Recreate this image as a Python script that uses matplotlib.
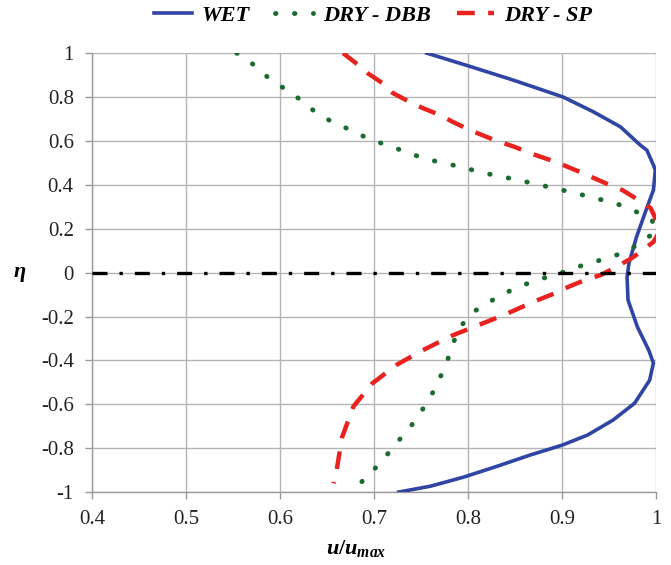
import matplotlib
matplotlib.use("Agg")
import matplotlib.pyplot as plt
from matplotlib.ticker import FuncFormatter

plt.rcParams['font.family'] = ['Liberation Serif', 'DejaVu Serif']
plt.rcParams['axes.unicode_minus'] = False
plt.rcParams['mathtext.fontset'] = 'custom'
plt.rcParams['mathtext.it'] = 'Liberation Serif:italic:bold'
plt.rcParams['mathtext.rm'] = 'Liberation Serif:bold'

# WET profile (u/umax vs eta)
wet_eta = [1.0, 0.942, 0.877, 0.80, 0.733, 0.664, 0.581, 0.558, 0.49, 0.467, 0.376,
           0.271, 0.162, 0.043, -0.02, -0.125, -0.248, -0.353, -0.412, -0.49, -0.595,
           -0.672, -0.74, -0.786, -0.831, -0.882, -0.932, -0.973, -1.0]
wet_u = [0.756, 0.800, 0.848, 0.901, 0.933, 0.962, 0.983, 0.990, 0.997, 0.999, 0.997,
         0.988, 0.979, 0.971, 0.969, 0.970, 0.980, 0.992, 0.997, 0.993, 0.977,
         0.954, 0.927, 0.900, 0.866, 0.831, 0.795, 0.760, 0.726]

# DRY - DBB profile
dbb_eta = [1.0, 0.95, 0.89, 0.84, 0.79, 0.73, 0.685, 0.65, 0.61, 0.58, 0.55, 0.52, 0.50,
           0.48, 0.455, 0.44, 0.42, 0.40, 0.38, 0.36, 0.339, 0.317, 0.285, 0.244, 0.19,
           0.13, 0.089, 0.061, 0.034, 0.007, -0.02, -0.048, -0.084, -0.125, -0.175,
           -0.235, -0.32, -0.40, -0.49, -0.567, -0.64, -0.713, -0.78, -0.85, -0.915, -0.977]
dbb_u = [0.554, 0.571, 0.587, 0.604, 0.621, 0.638, 0.656, 0.675, 0.694, 0.714, 0.734, 0.753, 0.773,
         0.794, 0.815, 0.833, 0.855, 0.876, 0.896, 0.916, 0.935, 0.956, 0.975, 0.995, 1.0,
         0.982, 0.964, 0.944, 0.922, 0.905, 0.884, 0.864, 0.844, 0.826, 0.807,
         0.794, 0.784, 0.778, 0.769, 0.760, 0.749, 0.737, 0.723, 0.710, 0.696, 0.681]

# DRY - SP profile
sp_eta = [1.0, 0.95, 0.909, 0.863, 0.818, 0.777, 0.749, 0.718, 0.686, 0.649, 0.604, 0.572,
          0.544, 0.503, 0.453, 0.40, 0.376, 0.339, 0.294, 0.24, 0.19, 0.14, 0.103, 0.066,
          0.02, -0.011, -0.034, -0.066, -0.093, -0.125, -0.153, -0.18, -0.21, -0.285,
          -0.353, -0.42, -0.505, -0.61, -0.75, -0.93, -0.96]
sp_u = [0.667, 0.682, 0.693, 0.709, 0.720, 0.738, 0.752, 0.770, 0.784, 0.802, 0.828, 0.850,
        0.866, 0.894, 0.922, 0.950, 0.964, 0.978, 0.994, 1.0, 1.004, 0.997, 0.986, 0.974,
        0.955, 0.941, 0.924, 0.906, 0.893, 0.874, 0.859, 0.845, 0.828, 0.784,
        0.752, 0.724, 0.698, 0.678, 0.666, 0.659, 0.657]

ref_eta = 0.0

x_ticks = [0.4, 0.5, 0.6, 0.7, 0.8, 0.9, 1.0]
y_ticks = [-1, -0.8, -0.6, -0.4, -0.2, 0, 0.2, 0.4, 0.6, 0.8, 1]

fig = plt.figure(figsize=(6.71, 5.65), dpi=100)
ax = fig.add_axes([0.137, 0.129, 0.841, 0.777])

ax.plot(wet_u, wet_eta, color='#3044a4', lw=2.6, solid_joinstyle='round', label='WET', zorder=3)
ax.plot(dbb_u, dbb_eta, color='#1b6b2f', lw=3.5, linestyle=(0, (0.1, 3.8)),
        dash_capstyle='round', label='DRY - DBB', zorder=3)
ax.plot(sp_u, sp_eta, color='#e8231f', lw=3.2, linestyle=(0, (4, 3)),
        dash_capstyle='butt', label='DRY - SP', zorder=3)
ax.axhline(ref_eta, color='black', lw=2.4, linestyle=(0, (4.5, 3.6, 1, 3.6)), zorder=4)

ax.set_xlim(0.4, 1.0)
ax.set_ylim(-1, 1)
ax.set_xticks(x_ticks)
ax.set_yticks(y_ticks)
fmt = FuncFormatter(lambda v, p: '%g' % round(v, 2))
ax.xaxis.set_major_formatter(fmt)
ax.yaxis.set_major_formatter(fmt)
ax.grid(True, color='#b4b4b4', lw=1.0, zorder=0)
ax.set_axisbelow(True)
for s in ['top', 'right']:
    ax.spines[s].set_visible(False)
for s in ['left', 'bottom']:
    ax.spines[s].set_color('#9a9a9a')
    ax.spines[s].set_linewidth(1.0)
ax.tick_params(direction='out', length=5, width=1.0, color='#9a9a9a',
               labelsize=15, labelcolor='#222222', pad=8)

fig.text(0.03, 0.518, 'η', fontsize=16, fontweight='bold', fontstyle='italic',
         ha='center', va='center')
fig.text(0.53, 0.02, r'$u/u_{max}$', fontsize=16, ha='center', va='baseline')

handles, labels = ax.get_legend_handles_labels()
fig.legend(handles, labels, loc='center', bbox_to_anchor=(0.556, 0.973), ncol=3,
           frameon=False, handlelength=1.7, handletextpad=0.45, columnspacing=1.15,
           prop={'family': 'Liberation Serif', 'weight': 'bold', 'style': 'italic', 'size': 16})

fig.savefig('out.png', dpi=100)
